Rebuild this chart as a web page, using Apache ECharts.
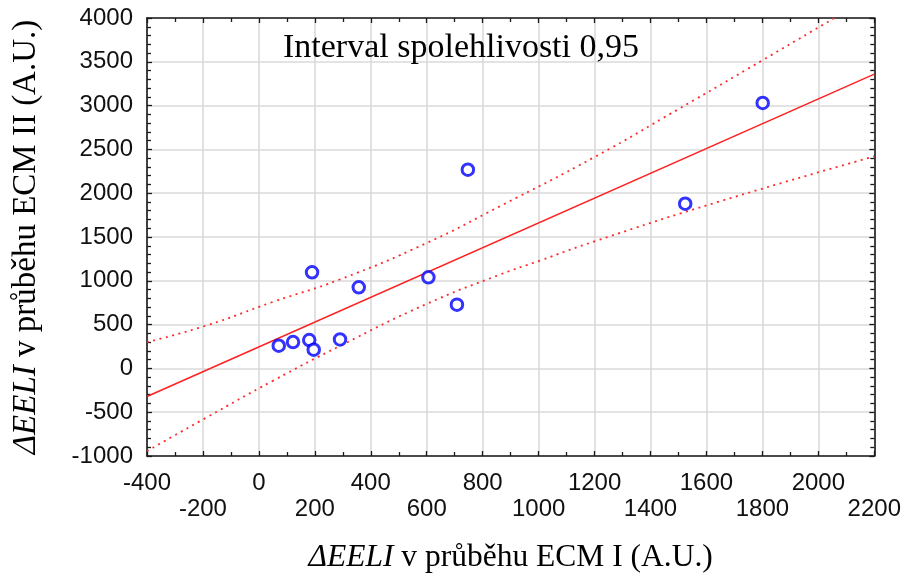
<!DOCTYPE html>
<html><head><meta charset="utf-8">
<script src="https://cdn.jsdelivr.net/npm/echarts@6/dist/echarts.min.js"></script>
<style>html,body{margin:0;padding:0;background:#fff}#c{width:904px;height:585px}</style>
</head><body><div id="c"></div>
<script>
// Observed data points
const pointsX = [71, 122, 180, 196, 190, 290, 357, 606, 708, 747, 1524, 1801];
const pointsY = [259, 301, 324, 213, 1097, 331, 926, 1040, 728, 2269, 1880, 3031];
// Regression line
const fitX = [-400, 2200];
const fitY = [-321, 3359];
// 95% confidence band
const upperX = [-400, -187, 51, 289, 599, 861, 1204, 1500, 1801, 2100];
const upperY = [300, 490, 760, 1015, 1430, 1850, 2420, 2960, 3519, 4080];
const lowerX = [-400, -187, 51, 289, 599, 861, 1004, 1204, 1646, 2200];
const lowerY = [-943, -560, -140, 255, 735, 1070, 1230, 1455, 1905, 2420];
// Tick labels
const xTickValues = [-400, -200, 0, 200, 400, 600, 800, 1000, 1200, 1400, 1600, 1800, 2000, 2200];
const yTickValues = [-1000, -500, 0, 500, 1000, 1500, 2000, 2500, 3000, 3500, 4000];

const titleText = 'Interval spolehlivosti 0,95';
const xName = '{i|ΔEELI} v průběhu ECM I (A.U.)';
const yName = '{i|ΔEELI} v průběhu ECM II (A.U.)';

const zip = (a, b) => a.map((v, i) => [v, b[i]]);

const SANS = 'Liberation Sans, Arial, sans-serif';
const SERIF = 'Liberation Serif, Times New Roman, serif';
const axisLineStyle = { color: '#1a1a1a', width: 1.6 };
const tickStyle = { color: '#1a1a1a', width: 1.3 };

const chart = echarts.init(document.getElementById('c'), null, { renderer: 'canvas' });
chart.setOption({
  backgroundColor: '#ffffff',
  animation: false,
  title: {
    text: titleText, left: 278, top: 26,
    textStyle: { fontFamily: SERIF, fontSize: 34, fontWeight: 'normal', color: '#000' }
  },
  grid: { left: 147, right: 28, top: 18, bottom: 129, containLabel: false },
  xAxis: [{
    type: 'value', min: xTickValues[0], max: xTickValues[xTickValues.length - 1], interval: 200,
    position: 'bottom',
    axisLine: { show: true, onZero: false, lineStyle: axisLineStyle },
    axisTick: { show: true, inside: true, length: 5, lineStyle: tickStyle },
    minorTick: { show: true, splitNumber: 2, length: 4, lineStyle: tickStyle },
    splitLine: { show: true, lineStyle: { color: '#dadada', width: 1.6 } },
    axisLabel: {
      margin: 14, fontFamily: SANS, fontSize: 24, color: '#111', lineHeight: 26,
      formatter: (v) => (xTickValues.indexOf(v) % 2 === 1 ? '\n' + v : '' + v)
    },
    name: xName, nameLocation: 'middle', nameGap: 86,
    nameTextStyle: {
      fontFamily: SERIF, fontSize: 31.5, color: '#000',
      rich: { i: { fontFamily: SERIF, fontSize: 31.5, fontStyle: 'italic', color: '#000' } }
    }
  }, {
    type: 'value', min: xTickValues[0], max: xTickValues[xTickValues.length - 1], interval: 200,
    position: 'top',
    axisLine: { show: true, onZero: false, lineStyle: axisLineStyle },
    axisTick: { show: true, inside: true, length: 5, lineStyle: tickStyle },
    minorTick: { show: true, splitNumber: 2, length: 4, lineStyle: tickStyle },
    splitLine: { show: false }, axisLabel: { show: false }
  }],
  yAxis: [{
    type: 'value', min: yTickValues[0], max: yTickValues[yTickValues.length - 1], interval: 500,
    position: 'left',
    axisLine: { show: true, onZero: false, lineStyle: axisLineStyle },
    axisTick: { show: true, inside: true, length: 5, lineStyle: tickStyle },
    minorTick: { show: true, splitNumber: 5, length: 4, lineStyle: tickStyle },
    splitLine: { show: true, lineStyle: { color: '#dadada', width: 1.6 } },
    axisLabel: { margin: 14, fontFamily: SANS, fontSize: 24, color: '#111', formatter: (v) => '' + v },
    name: yName, nameLocation: 'middle', nameGap: 104, nameRotate: 90,
    nameTextStyle: {
      fontFamily: SERIF, fontSize: 33, color: '#000',
      rich: { i: { fontFamily: SERIF, fontSize: 33, fontStyle: 'italic', color: '#000' } }
    }
  }, {
    type: 'value', min: yTickValues[0], max: yTickValues[yTickValues.length - 1], interval: 500,
    position: 'right',
    axisLine: { show: true, onZero: false, lineStyle: axisLineStyle },
    axisTick: { show: true, inside: true, length: 5, lineStyle: tickStyle },
    minorTick: { show: true, splitNumber: 5, length: 4, lineStyle: tickStyle },
    splitLine: { show: false }, axisLabel: { show: false }
  }],
  series: [{
    type: 'line', data: zip(upperX, upperY), smooth: true, symbol: 'none', clip: true,
    lineStyle: { color: '#ff2a2a', width: 1.8, type: [2, 4.5] }, z: 3
  }, {
    type: 'line', data: zip(lowerX, lowerY), smooth: true, symbol: 'none', clip: true,
    lineStyle: { color: '#ff2a2a', width: 1.8, type: [2, 4.5] }, z: 3
  }, {
    type: 'line', data: zip(fitX, fitY), symbol: 'none', clip: true,
    lineStyle: { color: '#ff2020', width: 1.5 }, z: 3
  }, {
    type: 'scatter', data: zip(pointsX, pointsY), symbol: 'circle', symbolSize: 11.5,
    itemStyle: { color: '#ffffff', borderColor: '#0000ff', borderWidth: 3 }, z: 5
  }]
});
</script></body></html>
